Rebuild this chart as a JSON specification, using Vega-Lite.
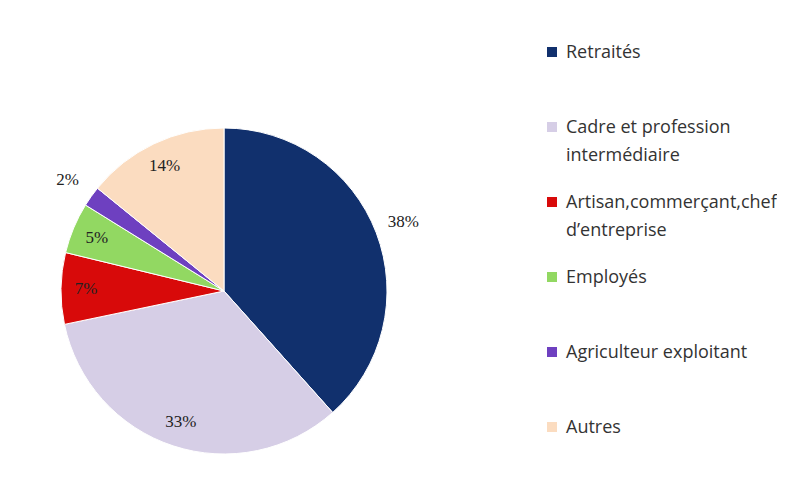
{
  "$schema": "https://vega.github.io/schema/vega-lite/v6.json",
  "width": 428,
  "height": 382,
  "autosize": {"type": "pad"},
  "padding": {"left": 10, "top": 43, "right": 0, "bottom": 0},
  "background": "white",
  "view": {"stroke": null},
  "config": {"style": {"guide-label": {"lineHeight": 28, "dy": 6}}},
  "data": {
    "values": [
      {"category": "Retraités", "share": 38, "label": "38%", "rank": 1},
      {"category": "Cadre et profession intermédiaire", "share": 33, "label": "33%", "rank": 2},
      {"category": "Artisan,commerçant,chef d’entreprise", "share": 7, "label": "7%", "rank": 3},
      {"category": "Employés", "share": 5, "label": "5%", "rank": 4},
      {"category": "Agriculteur exploitant", "share": 2, "label": "2%", "rank": 5},
      {"category": "Autres", "share": 14, "label": "14%", "rank": 6}
    ]
  },
  "encoding": {
    "theta": {"field": "share", "type": "quantitative", "stack": true},
    "order": {"field": "rank", "type": "quantitative"},
    "color": {
      "field": "category",
      "type": "nominal",
      "sort": null,
      "scale": {
        "domain": ["Retraités", "Cadre et profession intermédiaire", "Artisan,commerçant,chef d’entreprise", "Employés", "Agriculteur exploitant", "Autres"],
        "range": ["#11306d", "#d6cee6", "#d80a0a", "#92d862", "#6e40c0", "#fbdcc0"]
      },
      "legend": {
        "orient": "none",
        "legendX": 533,
        "legendY": -57,
        "title": null,
        "symbolType": "square",
        "symbolSize": 100,
        "symbolStrokeWidth": 0,
        "labelFont": "Open Sans",
        "labelFontSize": 18,
        "labelColor": "#333333",
        "labelBaseline": "alphabetic",
        "labelOffset": 5,
        "labelLimit": 300,
        "gridAlign": "all",
        "rowPadding": 28,
        "labelExpr": "datum.label == 'Cadre et profession intermédiaire' ? ['Cadre et profession', 'intermédiaire'] : datum.label == 'Artisan,commerçant,chef d’entreprise' ? ['Artisan,commerçant,chef', 'd’entreprise'] : datum.label"
      }
    }
  },
  "layer": [
    {"mark": {"type": "arc", "outerRadius": 163, "stroke": "white", "strokeWidth": 1}},
    {
      "mark": {"type": "text", "radius": 138, "font": "Liberation Serif", "fontSize": 17},
      "encoding": {
        "text": {"condition": {"test": "datum.rank != 1 && datum.rank != 5", "field": "label"}, "value": ""},
        "color": {"value": "#222222"}
      }
    },
    {
      "mark": {"type": "text", "radius": 192, "font": "Liberation Serif", "fontSize": 17},
      "encoding": {
        "text": {"condition": {"test": "datum.rank == 1 || datum.rank == 5", "field": "label"}, "value": ""},
        "color": {"value": "#222222"}
      }
    }
  ]
}
